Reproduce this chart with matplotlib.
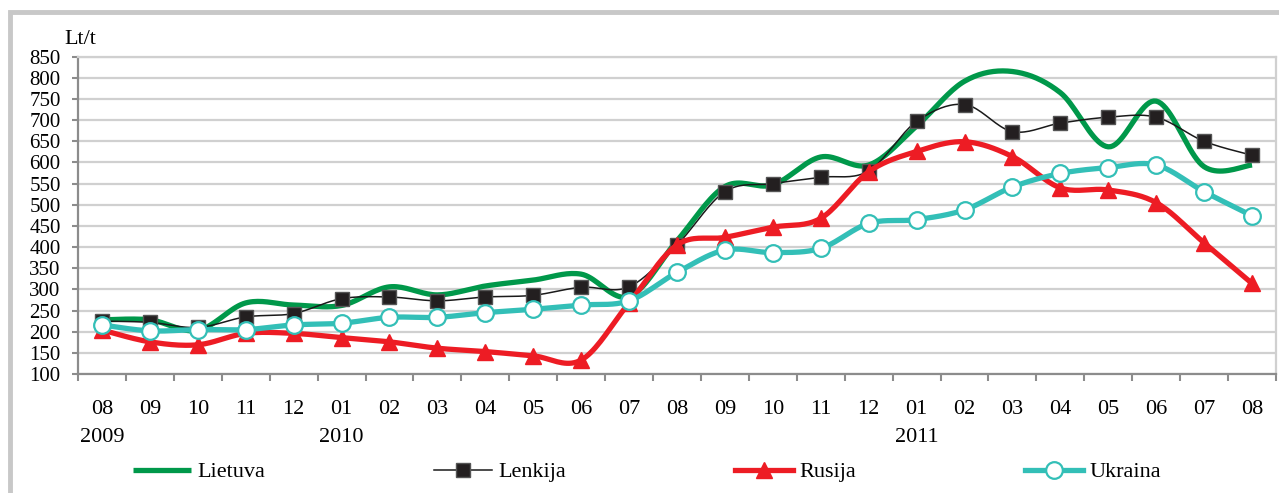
import numpy as np
import matplotlib
matplotlib.use("Agg")
import matplotlib.pyplot as plt
from matplotlib.patches import Rectangle

# months 2009-08 .. 2011-08
months = ['08', '09', '10', '11', '12', '01', '02', '03', '04', '05', '06', '07',
          '08', '09', '10', '11', '12', '01', '02', '03', '04', '05', '06', '07', '08']
years = {0: '2009', 5: '2010', 17: '2011'}

lietuva = [228, 228, 203, 268, 263, 262, 306, 287, 308, 322, 336, 283,
           415, 543, 547, 613, 594, 686, 792, 815, 765, 637, 745, 590, 594]
lenkija = [225, 222, 210, 235, 243, 278, 282, 273, 282, 286, 305, 306,
           405, 531, 550, 565, 580, 697, 737, 673, 693, 707, 707, 650, 617]
rusija = [204, 176, 169, 196, 196, 186, 176, 161, 153, 143, 133, 268,
          405, 423, 447, 468, 578, 626, 649, 614, 540, 535, 505, 410, 314]
ukraina = [216, 202, 205, 205, 216, 220, 234, 234, 245, 253, 263, 273,
           340, 393, 387, 397, 456, 465, 488, 542, 574, 588, 594, 531, 474]

N = 20  # points per segment for Excel-like smoothing


def smooth(vals, n=N):
    pts = np.column_stack([np.arange(len(vals)), np.asarray(vals, float)])
    P = np.vstack([pts[0], pts, pts[-1]])
    t = np.linspace(0, 1, n, endpoint=False)[:, None]
    out = []
    for i in range(len(vals) - 1):
        p0, p1, p2, p3 = P[i], P[i + 1], P[i + 2], P[i + 3]
        c1 = p1 + (p2 - p0) / 6
        c2 = p2 - (p3 - p1) / 6
        out.append((1 - t) ** 3 * p1 + 3 * (1 - t) ** 2 * t * c1
                   + 3 * (1 - t) * t ** 2 * c2 + t ** 3 * p2)
    out.append(pts[-1:])
    s = np.vstack(out)
    return s[:, 0], s[:, 1]


plt.rcParams['font.family'] = ['Liberation Serif', 'DejaVu Serif']

fig = plt.figure(figsize=(12.79, 4.93), dpi=100)
ax = fig.add_axes([78 / 1279, 1 - 374 / 493, (1276 - 78) / 1279, (374 - 56.7) / 493])

# outer light grey frame
fig.patches.append(Rectangle((10 / 1279, -0.1), 1.2, 1 - 12.5 / 493 + 0.1,
                             transform=fig.transFigure, fill=False,
                             edgecolor='#c8c8c8', linewidth=3.5, zorder=0))

x, y = smooth(lietuva)
ax.plot(x, y, color='#00984a', lw=3.8, label='Lietuva', solid_capstyle='butt')
x, y = smooth(lenkija)
ax.plot(x, y, color='#1a1a1a', lw=1.1, marker='s', ms=9.5, markevery=N,
        mfc='#231f20', mec='#555555', mew=1.0, label='Lenkija')
x, y = smooth(rusija)
ax.plot(x, y, color='#ed1c24', lw=3.8, marker='^', ms=11, markevery=N,
        mfc='#ed1c24', mec='#ed1c24', label='Rusija')
x, y = smooth(ukraina)
ax.plot(x, y, color='#33bfb7', lw=3.8, marker='o', ms=12, markevery=N,
        mfc='white', mec='#33bfb7', mew=1.6, label='Ukraina')

ax.set_xlim(-0.5, 24.5)
ax.set_ylim(100, 850)
ax.set_yticks(np.arange(100, 851, 50))
ax.yaxis.grid(True, color='#d0d0d0', lw=1.6)
ax.set_axisbelow(True)

ax.set_xticks(np.arange(25))
ax.set_xticklabels(months, fontsize=16)
ax.set_xticks(np.arange(-0.5, 25, 1), minor=True)
ax.tick_params(axis='x', which='major', length=0, pad=19)
ax.tick_params(axis='x', which='minor', length=5, width=1.5, color='#8c8c8c')
ax.tick_params(axis='y', length=4.5, width=1.5, color='#8c8c8c', pad=8, labelsize=15)

for k, yr in years.items():
    ax.text(k, -0.201, yr, transform=ax.get_xaxis_transform(), ha='center', va='center',
            fontsize=16)

for s in ['left', 'bottom']:
    ax.spines[s].set_color('#8c8c8c')
    ax.spines[s].set_linewidth(1.6)
ax.spines['top'].set_color('#d0d0d0')
ax.spines['top'].set_linewidth(1.6)
ax.spines['right'].set_color('#d0d0d0')
ax.spines['right'].set_linewidth(1.6)

fig.text(64 / 1279, 1 - 40 / 493, 'Lt/t', fontsize=16, ha='left', va='center')

fig.legend(loc='center left', bbox_to_anchor=(133 / 1279, 1 - 472 / 493), ncol=4,
           frameon=False, fontsize=16, handlelength=2.6, handletextpad=0.3,
           columnspacing=7.6, borderpad=0, borderaxespad=0)

fig.savefig('out.png', dpi=100, facecolor='white')
